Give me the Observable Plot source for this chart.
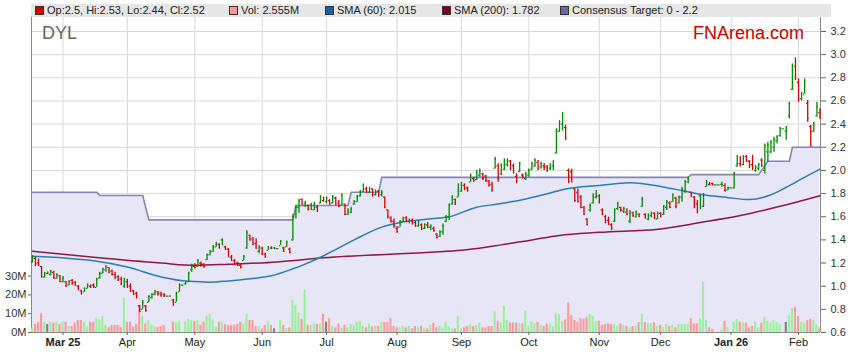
<!DOCTYPE html>
<html><head><meta charset="utf-8">
<script src="https://cdn.jsdelivr.net/npm/d3@7"></script>
<script src="https://cdn.jsdelivr.net/npm/@observablehq/plot@0.6"></script>
<style>
body{margin:0;background:#fff;font-family:"Liberation Sans",Arial,sans-serif;}
#wrap{position:relative;width:859px;height:363px;overflow:hidden;background:#fff;}
#wrap svg{position:absolute;left:0;top:0;}
.legend{position:absolute;left:31px;top:4px;width:800px;height:13px;background:#e6e6e6;font-size:11px;color:#222;}
.li{position:absolute;top:0;line-height:13px;white-space:nowrap;}
.sw{position:absolute;top:2px;width:9px;height:9px;border:1px solid #333;box-sizing:border-box;}
.ttl{position:absolute;font-size:18px;line-height:18px;white-space:nowrap;}
</style></head><body><div id="wrap"></div>
<script>
// ---- data (trading-day index 0 = 17 Feb 2025 ... 257 = 11 Feb 2026) ----
const ohlc = [
[1.21,1.265,1.20,1.25],[1.24,1.25,1.17,1.19],[1.20,1.235,1.17,1.18],[1.17,1.17,1.07,1.08],[1.08,1.12,1.07,1.11],
[1.11,1.125,1.10,1.11],[1.10,1.136,1.09,1.13],[1.12,1.13,1.063,1.07],[1.07,1.107,1.06,1.10],[1.09,1.092,1.035,1.04],
[1.04,1.084,1.03,1.07],[1.04,1.04,0.99,1.00],[1.01,1.049,1.006,1.04],[1.05,1.058,1.01,1.02],[1.03,1.04,1.00,1.01],
[1.00,1.006,0.963,0.97],[0.96,0.963,0.925,0.935],[0.95,0.986,0.948,0.98],[0.98,1.02,0.977,1.01],[1.00,1.01,0.98,1.00],
[1.01,1.02,0.985,0.99],[0.99,1.069,0.99,1.06],[1.07,1.121,1.063,1.11],[1.11,1.156,1.107,1.15],[1.14,1.179,1.121,1.17],
[1.16,1.16,1.11,1.12],[1.13,1.14,1.09,1.10],[1.10,1.12,1.06,1.07],[1.08,1.09,1.04,1.05],[1.06,1.078,1.006,1.02],
[1.00,1.069,0.983,1.05],[1.04,1.06,0.98,0.99],[1.00,1.02,0.948,0.96],[0.96,0.963,0.92,0.93],[0.94,0.948,0.891,0.90],
[0.83,0.833,0.772,0.78],[0.80,0.876,0.80,0.86],[0.83,0.833,0.776,0.79],[0.86,0.92,0.86,0.91],[0.90,0.935,0.89,0.93],
[0.93,0.963,0.92,0.95],[0.95,0.955,0.915,0.93],[0.94,0.948,0.905,0.92],[0.93,0.934,0.905,0.915],[0.915,0.915,0.915,0.915],
[0.915,0.915,0.915,0.915],[0.88,0.885,0.828,0.84],[0.86,0.948,0.862,0.94],[0.95,1.02,0.948,1.01],[1.01,1.01,1.01,1.01],
[1.02,1.035,1.01,1.03],[1.04,1.121,1.035,1.11],[1.14,1.19,1.121,1.17],[1.17,1.193,1.15,1.16],[1.17,1.23,1.164,1.22],
[1.20,1.21,1.164,1.19],[1.19,1.193,1.156,1.17],[1.23,1.279,1.222,1.27],[1.27,1.308,1.265,1.30],[1.30,1.351,1.294,1.34],
[1.34,1.38,1.337,1.36],[1.36,1.366,1.323,1.33],[1.40,1.409,1.351,1.36],[1.34,1.345,1.308,1.32],[1.32,1.325,1.25,1.26],
[1.25,1.265,1.216,1.22],[1.22,1.23,1.18,1.19],[1.20,1.207,1.17,1.18],[1.18,1.19,1.15,1.16],[1.22,1.265,1.22,1.26],
[1.33,1.48,1.32,1.46],[1.44,1.44,1.39,1.40],[1.41,1.42,1.35,1.36],[1.37,1.41,1.32,1.33],[1.30,1.35,1.28,1.34],
[1.33,1.337,1.265,1.28],[1.28,1.285,1.245,1.25],[1.31,1.343,1.31,1.33],[1.33,1.34,1.32,1.325],[1.33,1.335,1.32,1.325],
[1.325,1.325,1.325,1.325],[1.35,1.394,1.35,1.39],[1.33,1.337,1.294,1.30],[1.34,1.39,1.337,1.38],[1.32,1.33,1.28,1.29],
[1.40,1.62,1.39,1.60],[1.62,1.70,1.58,1.68],[1.68,1.75,1.63,1.74],[1.75,1.754,1.70,1.71],[1.70,1.734,1.68,1.72],
[1.70,1.70,1.654,1.66],[1.70,1.717,1.654,1.67],[1.66,1.725,1.654,1.71],[1.68,1.697,1.639,1.65],[1.72,1.783,1.71,1.77],
[1.74,1.769,1.725,1.76],[1.73,1.769,1.711,1.76],[1.74,1.746,1.697,1.71],[1.72,1.783,1.711,1.77],[1.76,1.769,1.697,1.71],
[1.72,1.74,1.682,1.69],[1.70,1.797,1.697,1.79],[1.71,1.711,1.61,1.62],[1.62,1.668,1.61,1.66],[1.64,1.682,1.625,1.67],
[1.71,1.74,1.70,1.73],[1.73,1.783,1.725,1.77],[1.78,1.826,1.77,1.82],[1.82,1.884,1.81,1.87],[1.84,1.855,1.80,1.82],
[1.81,1.855,1.80,1.85],[1.84,1.841,1.77,1.79],[1.79,1.832,1.78,1.82],[1.82,1.826,1.77,1.78],[1.79,1.826,1.77,1.81],
[1.77,1.77,1.67,1.68],[1.66,1.66,1.58,1.60],[1.59,1.60,1.545,1.56],[1.56,1.58,1.50,1.52],[1.50,1.515,1.458,1.47],
[1.51,1.567,1.51,1.56],[1.56,1.596,1.55,1.59],[1.59,1.60,1.553,1.56],[1.56,1.58,1.54,1.57],[1.57,1.58,1.53,1.54],
[1.55,1.56,1.51,1.52],[1.52,1.567,1.51,1.56],[1.53,1.538,1.48,1.49],[1.50,1.539,1.49,1.53],[1.53,1.55,1.50,1.51],
[1.51,1.53,1.48,1.52],[1.50,1.51,1.467,1.48],[1.45,1.452,1.409,1.42],[1.43,1.48,1.42,1.47],[1.47,1.538,1.44,1.52],
[1.56,1.61,1.55,1.60],[1.60,1.711,1.567,1.70],[1.71,1.783,1.70,1.77],[1.75,1.754,1.697,1.72],[1.77,1.884,1.769,1.87],
[1.82,1.898,1.812,1.88],[1.87,1.884,1.826,1.84],[1.85,1.855,1.812,1.83],[1.90,1.97,1.898,1.95],[1.93,1.941,1.898,1.91],
[1.92,1.999,1.913,1.98],[1.96,2.013,1.941,1.99],[1.97,1.976,1.913,1.93],[1.95,1.956,1.898,1.91],[1.91,1.913,1.855,1.87],
[1.88,1.898,1.812,1.83],[2.02,2.114,2.013,2.10],[2.04,2.057,1.898,1.93],[1.97,2.057,1.956,2.04],[2.01,2.10,1.999,2.08],
[2.05,2.10,2.028,2.09],[2.08,2.085,1.999,2.01],[2.04,2.057,1.97,1.98],[1.95,1.97,1.884,1.91],[1.99,2.071,1.985,2.06],
[1.96,1.97,1.927,1.94],[1.93,1.985,1.913,1.97],[1.96,2.013,1.941,2.00],[2.01,2.071,1.999,2.06],[2.04,2.10,2.028,2.09],
[2.07,2.085,1.999,2.01],[2.03,2.071,2.01,2.06],[2.04,2.06,2.00,2.03],[2.03,2.042,1.985,2.00],[2.02,2.057,1.999,2.05],
[2.04,2.085,1.999,2.07],[2.15,2.36,2.143,2.34],[2.34,2.43,2.33,2.42],[2.40,2.50,2.34,2.47],[2.37,2.39,2.258,2.28],
[2.00,2.013,1.884,1.91],[1.99,2.01,1.898,1.90],[1.84,1.841,1.726,1.74],[1.81,1.84,1.72,1.73],[1.77,1.783,1.668,1.68],
[1.68,1.688,1.61,1.62],[1.58,1.582,1.524,1.53],[1.66,1.711,1.639,1.70],[1.72,1.798,1.711,1.78],[1.77,1.826,1.754,1.80],
[1.78,1.79,1.711,1.73],[1.66,1.668,1.61,1.62],[1.60,1.61,1.539,1.55],[1.57,1.596,1.524,1.54],[1.53,1.539,1.481,1.50],
[1.56,1.668,1.553,1.66],[1.67,1.726,1.654,1.71],[1.68,1.683,1.639,1.66],[1.65,1.683,1.625,1.67],[1.64,1.668,1.611,1.62],
[1.56,1.654,1.539,1.64],[1.63,1.64,1.596,1.61],[1.60,1.65,1.59,1.64],[1.62,1.625,1.596,1.60],[1.69,1.769,1.683,1.75],
[1.62,1.625,1.582,1.59],[1.58,1.625,1.567,1.61],[1.61,1.64,1.59,1.63],[1.63,1.635,1.575,1.59],[1.58,1.64,1.575,1.63],
[1.63,1.635,1.59,1.61],[1.62,1.697,1.61,1.69],[1.68,1.74,1.654,1.73],[1.72,1.73,1.67,1.68],[1.73,1.798,1.726,1.79],
[1.76,1.769,1.668,1.69],[1.72,1.78,1.71,1.77],[1.77,1.855,1.726,1.84],[1.82,1.913,1.80,1.90],[1.90,1.941,1.884,1.93],
[1.81,1.812,1.769,1.78],[1.77,1.775,1.668,1.69],[1.71,1.74,1.625,1.65],[1.78,1.79,1.66,1.68],[1.69,1.80,1.68,1.79],
[1.86,1.913,1.855,1.89],[1.88,1.895,1.865,1.885],[1.885,1.89,1.87,1.875],[1.875,1.875,1.875,1.875],[1.875,1.875,1.875,1.875],
[1.88,1.898,1.855,1.88],[1.87,1.884,1.812,1.83],[1.83,1.855,1.826,1.85],[1.85,1.85,1.85,1.85],[1.85,1.985,1.84,1.98],
[2.04,2.129,2.028,2.06],[2.06,2.12,2.03,2.05],[2.05,2.129,2.04,2.10],[2.12,2.129,2.07,2.08],[2.08,2.085,2.014,2.04],
[2.05,2.13,2.00,2.02],[2.00,2.042,1.985,2.03],[2.02,2.06,2.00,2.05],[2.09,2.10,2.028,2.04],[2.00,2.229,1.97,2.21],
[2.16,2.244,2.071,2.22],[2.16,2.258,2.143,2.24],[2.20,2.287,2.157,2.27],[2.26,2.30,2.229,2.29],[2.30,2.373,2.287,2.36],
[2.36,2.36,2.36,2.36],[2.34,2.38,2.26,2.36],[2.47,2.589,2.445,2.58],[2.70,2.92,2.69,2.88],[2.90,2.972,2.776,2.80],
[2.76,2.79,2.589,2.62],[2.62,2.675,2.60,2.66],[2.66,2.79,2.66,2.77],[2.58,2.603,2.417,2.45],[2.38,2.388,2.20,2.33],
[2.34,2.417,2.33,2.40],[2.47,2.589,2.46,2.55],[2.50,2.53,2.44,2.52]
];
const volumeM = [
2.5,4.3,5.5,10,5.5,4.3,5.5,5,5.5,4.3,5.9,5.5,3.2,3.2,5,6.4,6.4,5.5,2.9,5.5,5.5,7.3,6.8,8.6,3.8,2.5,3.8,3.8,3.8,2.5,18.2,
5.5,5.5,2.9,4.3,14.5,8.6,4.6,6.4,3.8,2.9,2.5,3.2,3.8,0,0,5.5,5.5,5.9,0,
5.5,7,6.4,5.9,6.4,3.8,5.5,8.6,9.6,6.8,2.5,5.5,5.5,4.3,3.8,3.8,3.8,4.3,5.5,4.6,9.6,6.4,6.4,3.2,3.2,2,3.8,5.9,3.8,2,
0,
6.4,3.8,2,2.5,17,14.5,10.4,7,22.5,3.8,3.8,4.6,4.3,4.6,9.6,5.5,7.3,3.2,2.5,
4.6,2.5,3.8,2.5,4.3,3.8,5.5,5.9,3.2,2.5,4.6,2.9,3.2,3.2,5.4,5.4,5.4,
7.3,3.2,2.5,2.5,3.2,2.5,3.2,1.9,3.2,2.5,3.2,1.9,1.9,3.8,5,2.5,3.2,2.5,5.5,3.2,1.9,1.9,8.6,1.9,2.5,3.2,4.3,3.2,3.8,5,2.5,2.5,3.2,3.2,10.9,5.9,5,13.9,6.4,5,5,5,4.6,4.6,
11.3,3.2,5.5,4.6,5.5,3.8,3.2,4.6,4.6,2.9,10,9.6,
5.9,6.8,15.7,9.1,6.4,5.5,7.3,7,7.9,9.6,8.6,5.9,5.9,3.8,4.3,4.6,4.3,4.3,3.2,4.6,3.8,3.2,2.5,3.2,3.2,5.2,9.6,5.2,4.6,4.6,5.2,3.2,3.8,2.5,4.3,3.2,3.8,2.5,4.3,4.3,4.3,4.3,7.3,4.6,4.6,7.3,26.8,6.4,2.5,1.6,
0,0,1.4,5.9,2.5,0,
5.5,7,5.4,5,5,2.5,3.2,5.4,2.5,5,8,6,5,6.4,5.4,4.3,0,5.4,8.9,12.7,13.4,8.6,5.4,4.8,6.4,7,6.4,4.3,2.555
];
const sma60Pts = [[0,1.258],[12,1.24],[20,1.22],[31,1.165],[42,1.08],[51,1.042],[58,1.035],[64,1.045],[71,1.064],[78,1.09],
[85,1.15],[88,1.18],[94,1.25],[97,1.29],[105,1.40],[114,1.51],[120,1.55],[130,1.582],[136,1.60],[145,1.682],[152,1.71],
[161,1.754],[168,1.798],[174,1.84],[185,1.87],[195,1.893],[205,1.862],[213,1.82],[220,1.785],[227,1.765],[234,1.748],
[241,1.79],[246,1.855],[251,1.927],[257,2.012]];
const sma200Pts = [[0,1.302],[20,1.25],[42,1.20],[53,1.18],[64,1.19],[80,1.21],[95,1.245],[130,1.293],[140,1.31],[150,1.345],
[163,1.40],[172,1.438],[185,1.465],[205,1.495],[218,1.55],[231,1.61],[244,1.69],[257,1.782]];
const targetPts = [[0,1.81],[21,1.81],[22,1.783],[36,1.783],[38,1.573],[85,1.573],[86,1.697],[103,1.697],[104,1.811],
[113,1.811],[114,1.94],[214,1.94],[215,1.964],[237,1.964],[240,2.079],[247,2.079],[248,2.2],[257,2.2]];
const priceTicks = [0.6,0.8,1.0,1.2,1.4,1.6,1.8,2.0,2.2,2.4,2.6,2.8,3.0,3.2];
const volumeTicks = [0,10,20,30];
const monthTickIdx = [10,31,53,75,96,119,140,162,185,205,228,250];
const monthTickLabels = ["Mar 25","Apr","May","Jun","Jul","Aug","Sep","Oct","Nov","Dec","Jan 26","Feb"];
const boldLabels = ["Mar 25","Jan 26"];
const legendItems = ["Op:2.5, Hi:2.53, Lo:2.44, Cl:2.52","Vol: 2.555M","SMA (60): 2.015","SMA (200): 1.782","Consensus Target: 0 - 2.2"];
const legendColors = ["#cc0000","#ff9999","#1a62a8","#800020","#6a6a9c"];
const legendX = [35,229,325,442,560];

// ---- layout ----
const W = 859, H = 363;
const margins = {marginTop: 17, marginRight: 39, marginBottom: 31, marginLeft: 31};
const xDomain = [-0.29, 257.17];
const yDomain = [0.6, 3.321];
const volDomain = [0, 167.6];
const font = {fontFamily: "'Liberation Sans', Arial, sans-serif", fontSize: "11px", background: "transparent", overflow: "visible"};

const bars = ohlc.map((d, i) => {
  const prev = i ? ohlc[i - 1][3] : d[0];
  return {i, o: d[0], h: d[1], l: d[2], c: d[3], v: volumeM[i], dir: d[3] > prev ? "up" : d[3] < prev ? "down" : "flat"};
});
const labelOf = new Map(monthTickIdx.map((t, k) => [t, monthTickLabels[k]]));
const normalTicks = monthTickIdx.filter(t => !boldLabels.includes(labelOf.get(t)));
const boldTicks = monthTickIdx.filter(t => boldLabels.includes(labelOf.get(t)));
const wrap = document.getElementById("wrap");

// base layer: grid, consensus band, axes
const base = Plot.plot({
  width: W, height: H, ...margins, style: {...font, background: "#fff"},
  x: {type: "linear", domain: xDomain},
  y: {domain: yDomain},
  marks: [
    Plot.gridY(priceTicks, {stroke: "#d8d8d8", strokeOpacity: 1}),
    Plot.gridX(monthTickIdx, {stroke: "#d8d8d8", strokeOpacity: 1}),
    Plot.areaY(targetPts, {x: d => d[0], y1: () => yDomain[0], y2: d => d[1], fill: "#e6e6f6", clip: true}),
    Plot.line(targetPts, {x: d => d[0], y: d => d[1], stroke: "#8686b0", strokeWidth: 1.6}),
    Plot.ruleX([xDomain[0], xDomain[1]], {stroke: "#8a8a8a"}),
    Plot.ruleY([yDomain[0]], {stroke: "#8a8a8a"}),
    Plot.axisY(priceTicks, {anchor: "right", tickSize: 5, tickPadding: 5, stroke: "#666", fill: "#333", tickFormat: d => d.toFixed(1), label: null}),
    Plot.axisX(normalTicks, {anchor: "bottom", tickSize: 3, tickPadding: 3, stroke: "#666", fill: "#222", tickFormat: d => labelOf.get(d), label: null}),
    Plot.axisX(boldTicks, {anchor: "bottom", tickSize: 3, tickPadding: 3, stroke: "#666", fill: "#222", fontWeight: "bold", tickFormat: d => labelOf.get(d), label: null})
  ]
});
wrap.appendChild(base);

// volume layer
const vb = bars.filter(d => d.v > 0);
const volRect = (dir, color) => Plot.rect(vb.filter(d => d.dir === dir), {x1: d => d.i - 0.34, x2: d => d.i + 0.34, y1: () => 0, y2: d => d.v, fill: color});
const vol = Plot.plot({
  width: W, height: H, ...margins, style: font,
  x: {type: "linear", domain: xDomain, axis: null},
  y: {domain: volDomain},
  marks: [
    volRect("up", "#9cf09c"), volRect("down", "#ff9a9a"), volRect("flat", "#808080"),
    Plot.axisY(volumeTicks, {anchor: "left", tickSize: 3, tickPadding: 2, stroke: "#666", fill: "#333", tickFormat: d => d + "M", label: null})
  ]
});
wrap.appendChild(vol);

// titles
const t1 = document.createElement("div"); t1.className = "ttl"; t1.style.left = "42px"; t1.style.top = "24px"; t1.style.color = "#666"; t1.textContent = "DYL"; wrap.appendChild(t1);
const t2 = document.createElement("div"); t2.className = "ttl"; t2.style.left = "693px"; t2.style.top = "24px"; t2.style.color = "#cc0000"; t2.textContent = "FNArena.com"; wrap.appendChild(t2);

// price layer: SMAs + OHLC bars
const ohlcMarks = (sel, color) => [
  Plot.ruleX(sel, {x: "i", y1: "l", y2: "h", stroke: color, strokeWidth: 1.3}),
  Plot.ruleY(sel, {y: "o", x1: d => d.i - 0.4, x2: d => d.i, stroke: color, strokeWidth: 1.2}),
  Plot.ruleY(sel, {y: "c", x1: d => d.i, x2: d => d.i + 0.4, stroke: color, strokeWidth: 1.2})
];
const up = bars.filter(d => d.dir !== "down"), down = bars.filter(d => d.dir === "down");
const price = Plot.plot({
  width: W, height: H, ...margins, style: font,
  x: {type: "linear", domain: xDomain, axis: null},
  y: {domain: yDomain, axis: null},
  marks: [
    Plot.line(sma200Pts, {x: d => d[0], y: d => d[1], stroke: "#8e1a40", strokeWidth: 1.5, curve: "monotone-x"}),
    Plot.line(sma60Pts, {x: d => d[0], y: d => d[1], stroke: "#2c7cbc", strokeWidth: 1.5, curve: "monotone-x"}),
    ...ohlcMarks(up, "#008a00"),
    ...ohlcMarks(down, "#d00000")
  ]
});
wrap.appendChild(price);

// legend strip
const lg = document.createElement("div"); lg.className = "legend";
legendItems.forEach((txt, k) => {
  const sw = document.createElement("div"); sw.className = "sw"; sw.style.left = (legendX[k] - 31) + "px"; sw.style.background = legendColors[k]; lg.appendChild(sw);
  const li = document.createElement("div"); li.className = "li"; li.style.left = (legendX[k] - 31 + 12) + "px"; li.textContent = txt; lg.appendChild(li);
});
wrap.appendChild(lg);
</script></body></html>
